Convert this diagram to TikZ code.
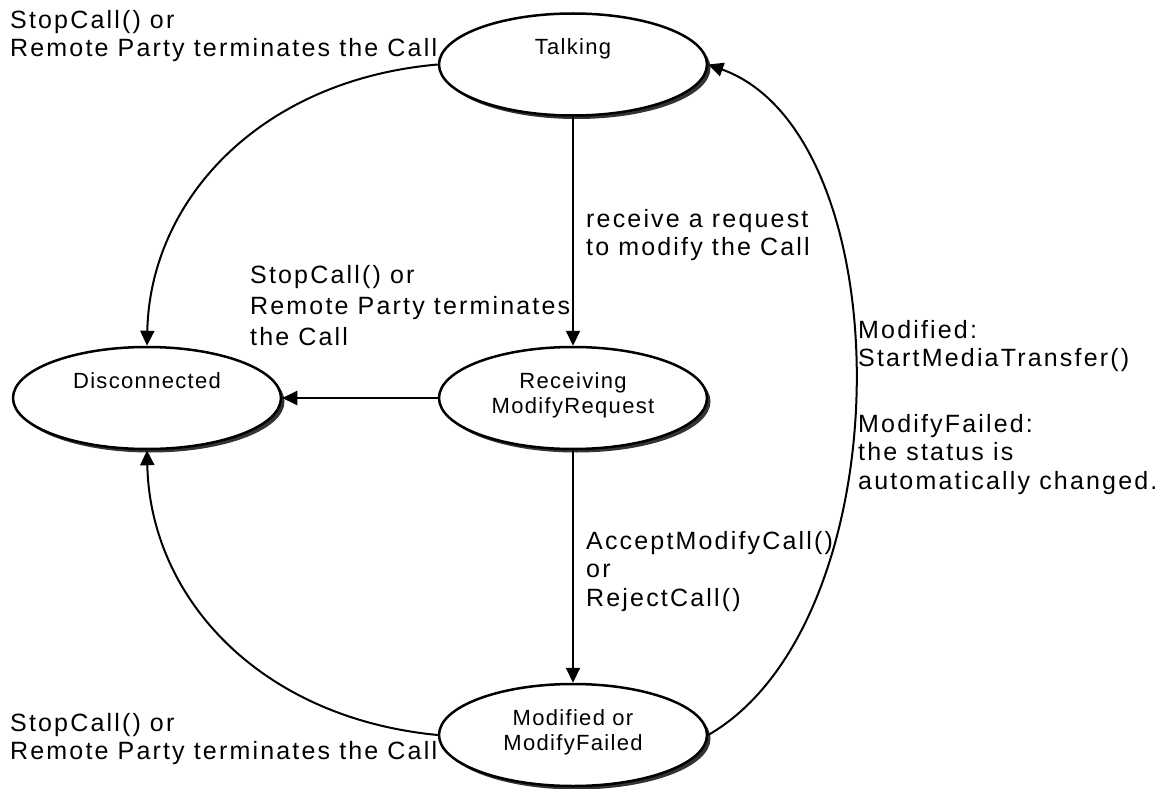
\documentclass[tikz,border=0pt]{standalone}
\usepackage{fontspec}
\setmainfont{Liberation Sans}
\usetikzlibrary{arrows.meta,shapes.geometric,shadows}
\newcommand\stfont{\fontsize{22}{25}\selectfont\addfontfeature{LetterSpace=6}}
\newcommand\lbfont{\fontsize{25}{28.5}\selectfont\addfontfeature{LetterSpace=8.7}}
\newcommand\lowstrut{\strut\rule[-12pt]{0pt}{12pt}}
\begin{document}
\begin{tikzpicture}[x=1pt,y=1pt,
  state/.style={ellipse, draw, line width=2.5pt, fill=white,
    minimum width=268pt, minimum height=102pt, inner sep=0pt,
    align=center, font=\stfont,
    drop shadow={shadow xshift=3.5pt, shadow yshift=-3.5pt, fill=black!80, opacity=1}},
  edge/.style={line width=2pt, -{Triangle[length=15pt,width=14pt]}},
  lbl/.style={anchor=north west, align=left, inner sep=0pt, font=\lbfont}]
\useasboundingbox (0,0) rectangle (1160,-789);

% states
\node[state] (t) at (573,-64.5) {\strut Talking\\\lowstrut};
\node[state] (d) at (147,-398) {\strut Disconnected\\\lowstrut};
\node[state] (r) at (573,-398) {\strut Receiving\\ModifyRequest\lowstrut};
\node[state] (m) at (573,-735) {\strut Modified or\\ModifyFailed\lowstrut};

% transitions
\draw[edge] (t.west) .. controls (260,-80) and (150,-200) .. (d.north);
\draw[edge] (t.south) -- (r.north);
\draw[edge] (r.west) -- (d.east);
\draw[edge] (r.south) -- (m.north);
\draw[edge] (m.west) .. controls (260,-718) and (150,-598) .. (d.south);
\draw[edge] (m.east) .. controls (904,-622) and (904,-135) .. (t.east);

% labels
\node[lbl] (l1) at (10,-8) {\strut StopCall() or\\Remote Party terminates the Call};
\node[lbl] (l2) at (586,-207) {\strut receive a request\\to modify the Call};
\node[lbl] (l3) at (250,-263) {\strut StopCall() or\\[2.5pt]Remote Party terminates\\[2.5pt]the Call};
\node[lbl] (l4) at (858,-318) {\strut Modified:\\StartMediaTransfer()\\[37pt]ModifyFailed:\\the status is\\automatically changed.};
\node[lbl] (l5) at (586,-529) {\strut AcceptModifyCall()\\or\\RejectCall()};
\node[lbl] (l6) at (10,-711) {\strut StopCall() or\\Remote Party terminates the Call};
\end{tikzpicture}
\end{document}
